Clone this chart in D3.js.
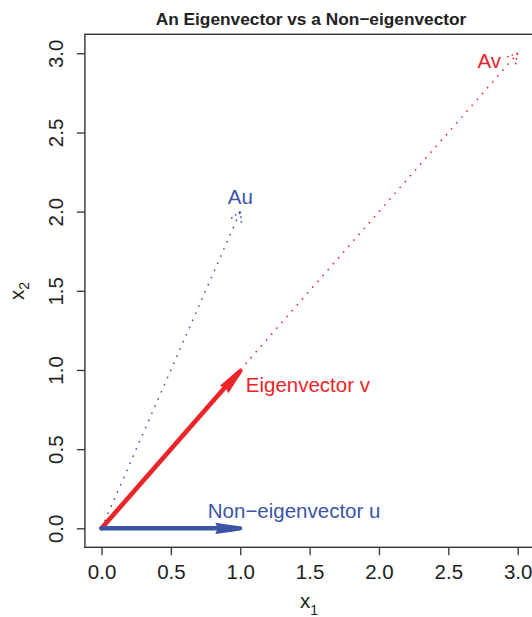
<!DOCTYPE html>
<html><head><meta charset="utf-8">
<script src="https://cdn.jsdelivr.net/npm/d3@7"></script>
<style>
html,body{margin:0;padding:0;background:#fff;}
svg{display:block;font-family:"Liberation Sans",Arial,Helvetica,sans-serif;}
</style></head>
<body>
<svg id="chart" width="532" height="617"></svg>
<script>
// ---- data ----
const xTicks = [0, 0.5, 1, 1.5, 2, 2.5, 3];
const yTicks = [0, 0.5, 1, 1.5, 2, 2.5, 3];
const vecNames = ["v", "u"];           // eigenvector v, non-eigenvector u
const vecX = [1, 1];
const vecY = [1, 0];
const imgX = [3, 1];                    // A v, A u
const imgY = [3, 2];
const labelText = ["Eigenvector v", "Non\u2212eigenvector u", "Av", "Au"];
const labelX = [1.04, 0.766, 2.88, 1.0];
const labelY = [0.863, 0.063, 2.906, 2.05];
const labelAnchor = ["start", "start", "end", "middle"];
const labelSeries = [0, 1, 0, 1];
const title = "An Eigenvector vs a Non\u2212eigenvector";

// ---- styles ----
const colors = ["#EC2329", "#3A55A5"];
const fontSize = 20.5;

const svg = d3.select("#chart");
const x = d3.scaleLinear().domain([-0.12, 3.12]).range([84.9, 534.3]);
const y = d3.scaleLinear().domain([-0.12, 3.12]).range([547.3, 34.3]);

// title
svg.append("text").attr("x", 311).attr("y", 24.5)
  .attr("text-anchor", "middle").attr("font-weight", "bold")
  .attr("font-size", 17.3).attr("fill", "#222").text(title);

// box
svg.append("rect").attr("x", x(-0.12)).attr("y", y(3.12))
  .attr("width", x(3.12) - x(-0.12)).attr("height", y(-0.12) - y(3.12))
  .attr("fill", "none").attr("stroke", "#333").attr("stroke-width", 1.4);

// x axis
const xAxis = svg.append("g").attr("transform", `translate(0,${y(-0.12)})`)
  .call(d3.axisBottom(x).tickValues(xTicks).tickFormat(d3.format(".1f")).tickSize(8).tickPadding(9));
xAxis.select(".domain").remove();
xAxis.selectAll(".tick line").attr("stroke", "#333").attr("stroke-width", 1.3);
xAxis.selectAll(".tick text").attr("font-size", fontSize).attr("fill", "#222")
  .attr("font-family", "Liberation Sans, Arial, sans-serif");

// y axis
const yAxis = svg.append("g").attr("transform", `translate(${x(-0.12)},0)`)
  .call(d3.axisLeft(y).tickValues(yTicks).tickFormat(d3.format(".1f")).tickSize(8));
yAxis.select(".domain").remove();
yAxis.selectAll(".tick line").attr("stroke", "#333").attr("stroke-width", 1.3);
yAxis.selectAll(".tick text").remove();
yAxis.selectAll(".tick").append("text")
  .attr("transform", "translate(-22,0) rotate(-90)")
  .attr("text-anchor", "middle").attr("font-size", fontSize).attr("fill", "#222")
  .attr("font-family", "Liberation Sans, Arial, sans-serif")
  .text(d => d3.format(".1f")(d));

// axis titles
const xl = svg.append("text").attr("x", 309).attr("y", 608).attr("text-anchor", "middle")
  .attr("font-size", fontSize).attr("fill", "#222");
xl.append("tspan").text("x");
xl.append("tspan").attr("dy", 7).attr("font-size", 14).text("1");
const yl = svg.append("text").attr("transform", "translate(24,291) rotate(-90)")
  .attr("text-anchor", "middle").attr("font-size", fontSize).attr("fill", "#222");
yl.append("tspan").text("x");
yl.append("tspan").attr("dy", 5).attr("font-size", 14).text("2");

// dotted image lines with small dotted arrowheads
const g = svg.append("g");
vecNames.forEach((n, i) => {
  const x0 = x(0), y0 = y(0), x1 = x(imgX[i]), y1 = y(imgY[i]);
  g.append("line").attr("x1", x0).attr("y1", y0).attr("x2", x1).attr("y2", y1)
    .attr("stroke", colors[i]).attr("stroke-width", 1.5)
    .attr("stroke-dasharray", "1.6,6.2");
  const ang = Math.atan2(y1 - y0, x1 - x0);
  [-1, 1].forEach(s => {
    const a = ang + Math.PI + s * Math.PI / 6;
    g.append("line").attr("x1", x1).attr("y1", y1)
      .attr("x2", x1 + 13 * Math.cos(a)).attr("y2", y1 + 13 * Math.sin(a))
      .attr("stroke", colors[i]).attr("stroke-width", 1.5)
      .attr("stroke-dasharray", "1.6,3.2");
  });
});

// thick vectors
vecNames.forEach((n, i) => {
  const x0 = x(0), y0 = y(0), x1 = x(vecX[i]), y1 = y(vecY[i]);
  const ang = Math.atan2(y1 - y0, x1 - x0);
  const L = 26;
  const xs = x1 - (L - 3) * Math.cos(ang), ys = y1 - (L - 3) * Math.sin(ang);
  g.append("line").attr("x1", x0).attr("y1", y0).attr("x2", xs).attr("y2", ys)
    .attr("stroke", colors[i]).attr("stroke-width", 4.6).attr("stroke-linecap", "round");
  g.append("path")
    .attr("d", `M${-L},-5.6 Q-12,-3.6 -1,-2.1 A2.1 2.1 0 0 1 -1,2.1 Q-12,3.6 ${-L},5.6 L${-L + 2.5},0 Z`)
    .attr("transform", `translate(${x1 + 1},${y1}) rotate(${ang * 180 / Math.PI})`)
    .attr("fill", colors[i]);
});

// labels
labelText.forEach((t, i) => {
  svg.append("text").attr("x", x(labelX[i])).attr("y", y(labelY[i]))
    .attr("text-anchor", labelAnchor[i]).attr("font-size", fontSize)
    .attr("fill", colors[labelSeries[i]]).text(t);
});
</script>
</body></html>
